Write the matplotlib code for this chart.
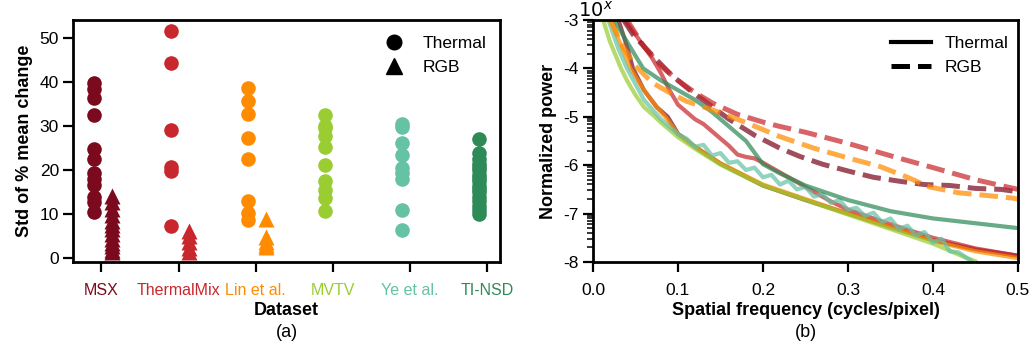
import numpy as np
import matplotlib
matplotlib.use("Agg")
import matplotlib.pyplot as plt
from matplotlib.lines import Line2D

plt.rcParams["font.family"] = ["Liberation Sans", "DejaVu Sans"]

# ─── DATA ─────────────────────────────────────────────────────────────────────
DATASETS = ["MSX", "ThermalMix", "Lin et al.", "MVTV", "Ye et al.", "TI-NSD"]
COLORS = ["#7b0a1e", "#c8282d", "#ff8c00", "#9acd32", "#66c2a5", "#2e8b57"]

thermal_std = {
    "MSX": [39.8, 38.5, 36.5, 32.5, 24.8, 22.6, 19.5, 18.0, 16.8, 14.0, 12.8, 10.5],
    "ThermalMix": [51.8, 44.5, 29.1, 20.7, 19.8, 7.3],
    "Lin et al.": [38.8, 35.8, 32.8, 27.4, 22.7, 13.0, 10.3, 8.7],
    "MVTV": [32.7, 30.2, 29.7, 27.8, 25.4, 21.3, 17.7, 15.6, 13.7, 10.9],
    "Ye et al.": [30.5, 29.8, 26.3, 23.6, 20.6, 19.5, 18.0, 11.1, 6.4],
    "TI-NSD": [27.2, 24.0, 22.5, 21.5, 20.8, 20.0, 19.0, 18.2, 17.5, 16.5,
               15.8, 15.0, 14.0, 13.0, 12.0, 11.0, 10.2],
}
rgb_std = {
    "MSX": [14.2, 12.8, 11.3, 9.8, 8.6, 7.5, 6.6, 5.5, 4.5, 3.6, 2.8, 2.0, 1.5],
    "ThermalMix": [6.2, 5.0, 3.8, 2.4, 1.5],
    "Lin et al.": [9.0, 4.8, 3.8, 3.0, 2.6],
}

# power spectra: spatial frequency (cycles/pixel) and log10(normalized power)
thermal_freq = {
    "MSX": [0.03, 0.04, 0.047, 0.06, 0.075, 0.088, 0.1, 0.12, 0.15, 0.2, 0.25,
            0.3, 0.35, 0.4, 0.45, 0.5],
    "ThermalMix": [0.038, 0.05, 0.06, 0.07, 0.08, 0.09, 0.1, 0.11, 0.12, 0.13,
                   0.14, 0.15, 0.16, 0.17, 0.18, 0.19, 0.2, 0.22, 0.24, 0.26,
                   0.28, 0.3, 0.35, 0.4, 0.45, 0.5],
    "Lin et al.": [0.022, 0.03, 0.044, 0.06, 0.075, 0.085, 0.1, 0.12, 0.15,
                   0.2, 0.25, 0.3, 0.35, 0.4, 0.45, 0.5],
    "MVTV": [0.012, 0.02, 0.033, 0.04, 0.05, 0.06, 0.073, 0.08, 0.1, 0.12,
             0.15, 0.2, 0.25, 0.3, 0.35, 0.4, 0.44, 0.452],
    "Ye et al.": [0.018, 0.03, 0.04, 0.06, 0.08, 0.1, 0.11, 0.12, 0.13, 0.14,
                  0.15, 0.16, 0.17, 0.18, 0.19, 0.2, 0.21, 0.22, 0.23, 0.24,
                  0.25, 0.26, 0.27, 0.28, 0.29, 0.3, 0.31, 0.32, 0.33, 0.34,
                  0.35, 0.36, 0.37, 0.38, 0.39, 0.4, 0.41, 0.42, 0.43, 0.447],
    "TI-NSD": [0.025, 0.04, 0.059, 0.08, 0.1, 0.12, 0.14, 0.16, 0.18, 0.2,
               0.22, 0.25, 0.3, 0.35, 0.4, 0.45, 0.5],
}
thermal_logp = {
    "MSX": [-3.0, -3.55, -4.0, -4.45, -4.8, -5.0, -5.35, -5.62, -5.97, -6.42,
            -6.72, -7.0, -7.28, -7.55, -7.74, -7.87],
    "ThermalMix": [-3.0, -3.3, -3.55, -3.8, -4.1, -4.45, -4.75, -4.9, -5.05,
                   -5.15, -5.3, -5.45, -5.6, -5.78, -5.83, -5.86, -5.95,
                   -6.15, -6.35, -6.55, -6.75, -6.92, -7.22, -7.5, -7.72, -7.87],
    "Lin et al.": [-3.0, -3.4, -4.0, -4.45, -4.8, -5.0, -5.36, -5.62, -5.96,
                   -6.4, -6.7, -7.0, -7.28, -7.56, -7.78, -7.92],
    "MVTV": [-3.0, -3.45, -4.0, -4.25, -4.55, -4.8, -5.0, -5.12, -5.42, -5.66,
             -5.99, -6.42, -6.72, -7.02, -7.32, -7.62, -7.92, -8.0],
    "Ye et al.": [-3.0, -3.6, -4.0, -4.65, -5.05, -5.36, -5.45, -5.62, -5.58,
                  -5.8, -5.75, -5.95, -5.92, -6.1, -6.05, -6.25, -6.2, -6.4,
                  -6.32, -6.5, -6.45, -6.65, -6.6, -6.78, -6.72, -6.92, -6.88,
                  -7.05, -6.98, -7.18, -7.1, -7.32, -7.25, -7.45, -7.38, -7.6,
                  -7.52, -7.78, -7.8, -8.0],
    "TI-NSD": [-3.0, -3.45, -4.0, -4.25, -4.45, -4.65, -4.9, -5.2, -5.5, -5.98,
               -6.17, -6.42, -6.72, -6.95, -7.1, -7.2, -7.3],
}
rgb_freq = {
    "MSX": [0.036, 0.0475, 0.073, 0.0925, 0.116, 0.134, 0.16, 0.19, 0.22,
            0.2435, 0.27, 0.3, 0.33, 0.36, 0.39, 0.42, 0.45, 0.48, 0.5],
    "ThermalMix": [0.04, 0.06, 0.08, 0.1, 0.12, 0.141, 0.17, 0.204, 0.22, 0.25,
                   0.3, 0.353, 0.4, 0.45, 0.5],
    "Lin et al.": [0.02, 0.035, 0.05, 0.07, 0.09, 0.11, 0.141, 0.18, 0.22, 0.26,
                   0.3, 0.338, 0.37, 0.396, 0.43, 0.46, 0.494, 0.5],
}
rgb_logp = {
    "MSX": [-3.0, -3.31, -3.79, -4.14, -4.48, -4.71, -5.05, -5.38, -5.65,
            -5.82, -5.98, -6.12, -6.25, -6.33, -6.4, -6.42, -6.48, -6.5, -6.55],
    "ThermalMix": [-3.0, -3.55, -3.95, -4.25, -4.5, -4.72, -4.95, -5.13, -5.2,
                   -5.32, -5.55, -5.82, -6.05, -6.3, -6.5],
    "Lin et al.": [-3.0, -3.55, -3.95, -4.3, -4.5, -4.68, -4.86, -5.12, -5.41,
                   -5.65, -5.85, -6.03, -6.25, -6.45, -6.57, -6.62, -6.68, -6.7],
}

# ─── FIGURE ───────────────────────────────────────────────────────────────────
fig = plt.figure(figsize=(10.32, 3.47), dpi=100)
ax_a = fig.add_axes([0.0707, 0.245, 0.4138, 0.6974])
ax_b = fig.add_axes([0.5746, 0.245, 0.4118, 0.6974])

# Panel A: strip plot
for i, name in enumerate(DATASETS):
    vals = thermal_std[name]
    ax_a.plot([i - 0.1] * len(vals), vals, "o", color=COLORS[i], ms=10.5,
              mec="none", zorder=3)
    if name in rgb_std:
        vals = rgb_std[name]
        ax_a.plot([i + 0.14] * len(vals), vals, "^", color=COLORS[i], ms=11,
                  mec="none", zorder=3)

ax_a.set_xlim(-0.37, 5.17)
ax_a.set_ylim(-0.8, 54.2)
ax_a.set_xticks(range(len(DATASETS)))
ax_a.set_xticklabels(DATASETS, fontsize=11.5)
for lbl, c in zip(ax_a.get_xticklabels(), COLORS):
    lbl.set_color(c)
ax_a.set_yticks([0, 10, 20, 30, 40, 50])
ax_a.tick_params(axis="y", labelsize=12.5, length=7, width=1.6, pad=3)
ax_a.tick_params(axis="x", length=7, width=1.6, pad=8)
ax_a.set_ylabel("Std of % mean change", fontsize=13, fontweight="bold",
                labelpad=5)
ax_a.set_xlabel("Dataset", fontsize=13, fontweight="bold", labelpad=3)
ax_a.text(0.5, -0.293, "(a)", transform=ax_a.transAxes, ha="center",
          va="center", fontsize=13)
for spine in ax_a.spines.values():
    spine.set_linewidth(2)

handles_a = [
    Line2D([], [], marker="o", ls="none", color="black", ms=10.5),
    Line2D([], [], marker="^", ls="none", color="black", ms=11),
]
ax_a.legend(handles_a, ["Thermal", "RGB"], loc="upper right", frameon=False,
            fontsize=12.5, bbox_to_anchor=(1.004, 1.0), handletextpad=0.6,
            labelspacing=0.5)

# Panel B: power spectra
for i, name in enumerate(DATASETS):
    ax_b.plot(thermal_freq[name], 10 ** np.array(thermal_logp[name]),
              color=COLORS[i], lw=3, alpha=0.72, solid_capstyle="butt")
for i, name in enumerate(DATASETS):
    if name in rgb_freq:
        ax_b.plot(rgb_freq[name], 10 ** np.array(rgb_logp[name]),
                  color=COLORS[i], lw=3.6, alpha=0.72, ls="--")

ax_b.set_yscale("log")
ax_b.set_ylim(1e-8, 1e-3)
ax_b.set_xlim(0, 0.5)
ax_b.set_yticks([1e-3, 1e-4, 1e-5, 1e-6, 1e-7, 1e-8])
ax_b.set_yticklabels(["-3", "-4", "-5", "-6", "-7", "-8"])
ax_b.set_xticks([0.0, 0.1, 0.2, 0.3, 0.4, 0.5])
ax_b.set_xticklabels(["0.0", "0.1", "0.2", "0.3", "0.4", "0.5"])
ax_b.tick_params(axis="both", which="major", labelsize=12.5, length=7,
                 width=1.6)
ax_b.tick_params(axis="x", pad=8)
ax_b.tick_params(axis="y", which="minor", length=4, width=1.1)
ax_b.set_ylabel("Normalized power", fontsize=13, fontweight="bold")
ax_b.set_xlabel("Spatial frequency (cycles/pixel)", fontsize=13,
                fontweight="bold", labelpad=3)
ax_b.text(0.5, -0.293, "(b)", transform=ax_b.transAxes, ha="center",
          va="center", fontsize=13)
ax_b.text(-0.035, 0.995, "$10^x$", transform=ax_b.transAxes, ha="left",
          va="bottom", fontsize=14)
for spine in ax_b.spines.values():
    spine.set_linewidth(2)

handles_b = [
    Line2D([], [], color="black", lw=3, ls="-"),
    Line2D([], [], color="black", lw=3.6, ls="--"),
]
ax_b.legend(handles_b, ["Thermal", "RGB"], loc="upper right", frameon=False,
            fontsize=12.5, handlelength=2.3, bbox_to_anchor=(1.014, 1.0),
            labelspacing=0.5)

fig.savefig("out.png", dpi=100)
